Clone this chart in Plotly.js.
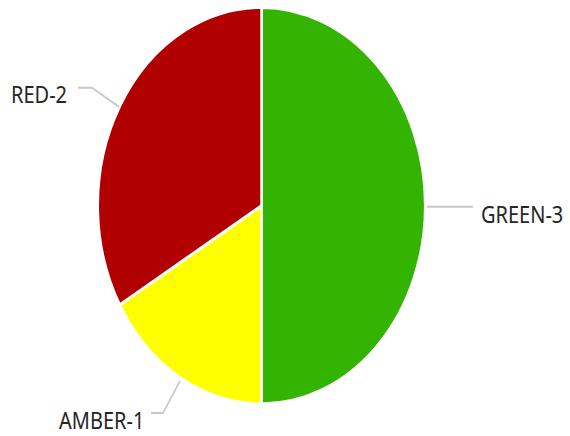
<!DOCTYPE html>
<html>
<head>
<meta charset="utf-8">
<script src="https://cdn.plot.ly/plotly-3.0.1.min.js"></script>
<style>
  html { margin: 0; padding: 0; overflow: hidden; background: #fff; }
  body { margin: 0; padding: 0; width: 570px; height: 436px; background: #fff; }
  #plot { width: 570px; height: 360px; transform: scaleY(1.21111); transform-origin: 0 0; }
</style>
</head>
<body>
<div id="plot"></div>
<script>
// ---- data ----
const labels = ['GREEN', 'AMBER', 'RED'];
const values = [3, 1, 2];

// ---- styles ----
const sliceColors = ['#33b400', '#ffff00', '#b00000'];
const W = 570, H = 360;
const px = (x) => x / W;
const py = (y) => 1 - y / H;

// label placement (pixels, unscaled space)
const labelPos = {
  GREEN: { x: 479, y: 176.7, anchor: 'left' },
  AMBER: { x: 57, y: 346.8, anchor: 'left' },
  RED:   { x: 69, y: 77.6, anchor: 'right' }
};
const leaderPaths = {
  GREEN: [[427, 170.7], [473, 170.7]],
  AMBER: [[151, 341], [163, 341], [180, 314.6]],
  RED:   [[78, 72.4], [92, 72.4], [119, 88.3]]
};

const trace = {
  type: 'pie',
  labels: labels,
  values: values,
  sort: false,
  direction: 'clockwise',
  rotation: 0,
  textinfo: 'none',
  hoverinfo: 'none',
  marker: { colors: sliceColors, line: { color: '#ffffff', width: 2.5 } },
  domain: { x: [px(97.8), px(425.2)], y: [py(333.5), py(6.1)] },
  showlegend: false
};

const annotations = labels.map((l, i) => ({
  text: l + '-' + values[i],
  xref: 'paper', yref: 'paper',
  x: px(labelPos[l].x), y: py(labelPos[l].y),
  xanchor: labelPos[l].anchor, yanchor: 'middle',
  showarrow: false,
  font: { family: 'Noto Sans', size: 20, color: '#262626' }
}));

const shapes = labels.map(l => ({
  type: 'path',
  xref: 'paper', yref: 'paper',
  path: leaderPaths[l].map((p, j) => (j ? 'L' : 'M') + px(p[0]) + ',' + py(p[1])).join(' '),
  line: { color: '#c8c8c8', width: 1.6 }
}));

Plotly.newPlot('plot', [trace], {
  width: W, height: H,
  margin: { l: 0, r: 0, t: 0, b: 0 },
  paper_bgcolor: '#ffffff',
  annotations: annotations,
  shapes: shapes
}, { displayModeBar: false, staticPlot: true });
</script>
</body>
</html>
